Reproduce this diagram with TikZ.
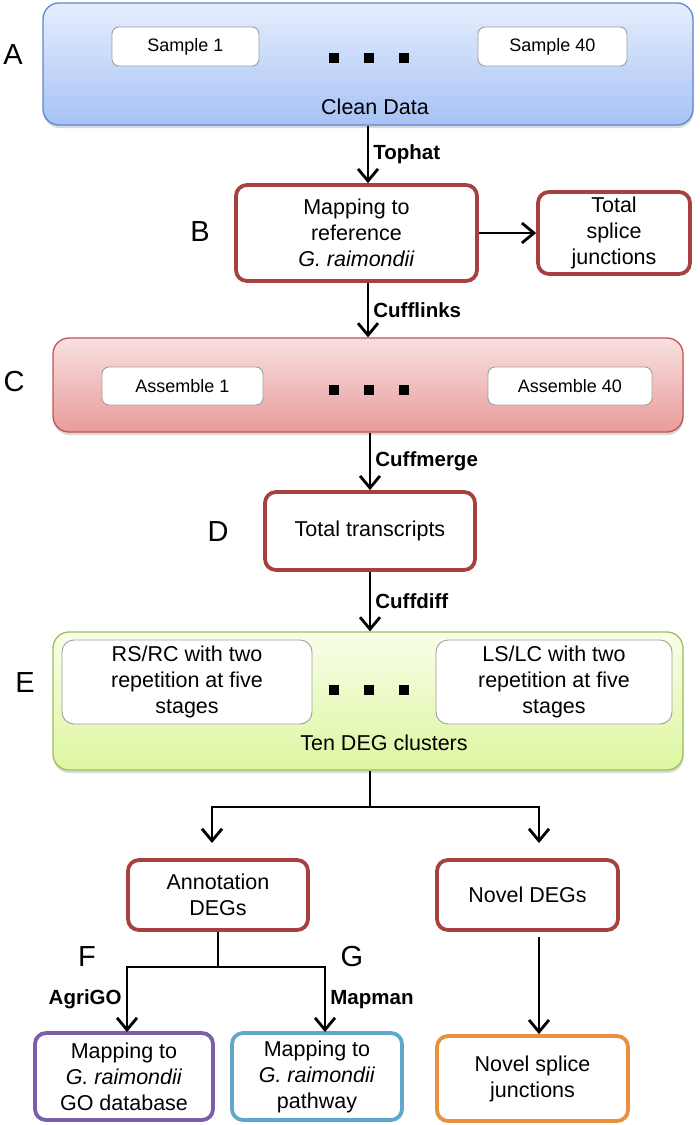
\documentclass[tikz,border=0pt]{standalone}
\usepackage{fontspec}
\setmainfont{Liberation Sans}
\usetikzlibrary{arrows.meta,shadows}
\definecolor{boxred}{HTML}{A5423F}
\definecolor{boxpurple}{HTML}{7B5EA7}
\definecolor{boxaqua}{HTML}{5FA7CB}
\definecolor{boxorange}{HTML}{E8913C}
\definecolor{blueTop}{HTML}{E6EEFD}
\definecolor{blueBot}{HTML}{A6C2F5}
\definecolor{blueLine}{HTML}{5F85CB}
\definecolor{pinkTop}{HTML}{F8E0E0}
\definecolor{pinkBot}{HTML}{E99B9B}
\definecolor{pinkLine}{HTML}{BF5652}
\definecolor{greenTop}{HTML}{F8FEE8}
\definecolor{greenBot}{HTML}{DDF6A0}
\definecolor{greenLine}{HTML}{9DBE5C}
\begin{document}
\begin{tikzpicture}[x=1pt,y=-1pt,
    panel/.style={rounded corners=16pt, line width=1.3pt, inner sep=0pt,
        drop shadow={shadow xshift=0.5pt, shadow yshift=-3pt, opacity=0.3}},
    sub/.style={draw=gray!75, fill=white, rounded corners=7pt, line width=0.9pt,
        inner sep=0pt, align=center, font=\fontsize{18}{21}\selectfont},
    boxtext/.style={font=\fontsize{21.5}{26}\selectfont},
    stepbox/.style={draw=boxred, fill=white, rounded corners=11pt, line width=3.8pt,
        inner sep=0pt, align=center, boxtext},
    lbl/.style={font=\bfseries\fontsize{20.5}{24}\selectfont, inner sep=4pt},
    letter/.style={font=\fontsize{29}{34}\selectfont},
    sqdot/.style={fill=black, minimum size=10pt, inner sep=0pt},
    arr/.style={line width=2.8pt, -{Straight Barb[length=12pt,width=20pt]}}
]
            \useasboundingbox (0,0) rectangle (700,1125);

            \node (panelA) at (368,64)[panel, draw=blueLine, top color=blueTop, bottom color=blueBot,
                minimum width=650pt, minimum height=122pt]{};
            \node (smp1) at (185.5,46.5)[sub, minimum width=147pt, minimum height=39pt]{Sample 1};
            \node (smp40) at (552.5,46.5)[sub, minimum width=149pt, minimum height=39pt]{Sample 40};
            \foreach \x in {334,369,404}
            {
                \node (dotA\x) at (\x,58)[sqdot]{};
            }
            \node (clean) at (375,107)[boxtext]{Clean Data};
            \node (tagA) at (13,55)[letter]{A};

            \node (map) at (356.5,233)[stepbox, minimum width=241pt, minimum height=96pt]{Mapping to\\reference\\\textit{G. raimondii}};
            \node (tagB) at (200,232)[letter]{B};
            \node (splice) at (614,233)[stepbox, minimum width=152pt, minimum height=82pt]{Total\\splice\\junctions};

            \node (panelC) at (368,385)[panel, draw=pinkLine, top color=pinkTop, bottom color=pinkBot,
                minimum width=630pt, minimum height=94pt]{};
            \node (asm1) at (182.5,386)[sub, minimum width=161pt, minimum height=38pt]{Assemble 1};
            \node (asm40) at (570,386)[sub, minimum width=164pt, minimum height=38pt]{Assemble 40};
            \foreach \x in {334,369,404}
            {
                \node (dotC\x) at (\x,390)[sqdot]{};
            }
            \node (tagC) at (14,382)[letter]{C};

            \node (trans) at (370,531)[stepbox, minimum width=210pt, minimum height=78pt]{Total transcripts};
            \node (tagD) at (218,532)[letter]{D};

            \node (panelE) at (368,701)[panel, draw=greenLine, top color=greenTop, bottom color=greenBot,
                minimum width=630pt, minimum height=138pt]{};
            \node (rsrc) at (187,682)[sub, boxtext, rounded corners=12pt, minimum width=250pt, minimum height=84pt]{RS/RC with two\\repetition at five\\stages};
            \node (lslc) at (554,682)[sub, boxtext, rounded corners=12pt, minimum width=236pt, minimum height=84pt]{LS/LC with two\\repetition at five\\stages};
            \foreach \x in {334,369,404}
            {
                \node (dotE\x) at (\x,690)[sqdot]{};
            }
            \node (ten) at (384,743)[boxtext]{Ten DEG clusters};
            \node (tagE) at (25,683)[letter]{E};

            \node (anno) at (218,895)[stepbox, minimum width=180pt, minimum height=70pt]{Annotation\\DEGs};
            \node (novel) at (527.5,895)[stepbox, minimum width=181pt, minimum height=70pt]{Novel DEGs};
            \node (godb) at (124,1076.5)[stepbox, draw=boxpurple, minimum width=178pt, minimum height=87pt]{Mapping to\\\textit{G. raimondii}\\GO database};
            \node (path) at (317,1076.5)[stepbox, draw=boxaqua, minimum width=170pt, minimum height=87pt]{Mapping to\\\textit{G. raimondii}\\pathway};
            \node (nsj) at (532.5,1078.5)[stepbox, draw=boxorange, minimum width=191pt, minimum height=85pt]{Novel splice\\junctions};
            \node (tagF) at (87,957)[letter]{F};
            \node (tagG) at (352,957)[letter]{G};

            \draw[arr] (panelA.south) -- (panelA.south |- map.north) node[lbl, right, midway]{Tophat};
            \draw[arr] (map.east) -- (map.east -| splice.west);
            \draw[arr] (panelA.south |- map.south) -- (panelA.south |- panelC.north) node[lbl, right, midway]{Cufflinks};
            \draw[arr] (trans.north |- panelC.south) -- (trans.north) node[lbl, right, midway]{Cuffmerge};
            \draw[arr] (trans.south) -- (trans.south |- panelE.north) node[lbl, right, midway]{Cuffdiff};

            \coordinate (splitE) at (370,807);
            \coordinate (tipAnno) at (212,843);
            \coordinate (tipNovel) at (539,843);
            \draw[line width=2.8pt] (splitE |- panelE.south) -- (splitE);
            \draw[arr] (splitE) -| (tipAnno);
            \draw[arr] (splitE) -| (tipNovel);

            \coordinate (splitF) at (218,967);
            \coordinate (tipGo) at (127,1032);
            \coordinate (tipPath) at (325,1032);
            \draw[line width=2.8pt] (anno.south) -- (splitF);
            \draw[arr] (splitF) -| (tipGo) node[lbl, left, pos=0.75]{AgriGO};
            \draw[arr] (splitF) -| (tipPath) node[lbl, right, pos=0.75]{Mapman};

            \coordinate (novelOut) at (539,937);
            \draw[arr] (novelOut) -- (novelOut |- nsj.north);
\end{tikzpicture}
\end{document}
